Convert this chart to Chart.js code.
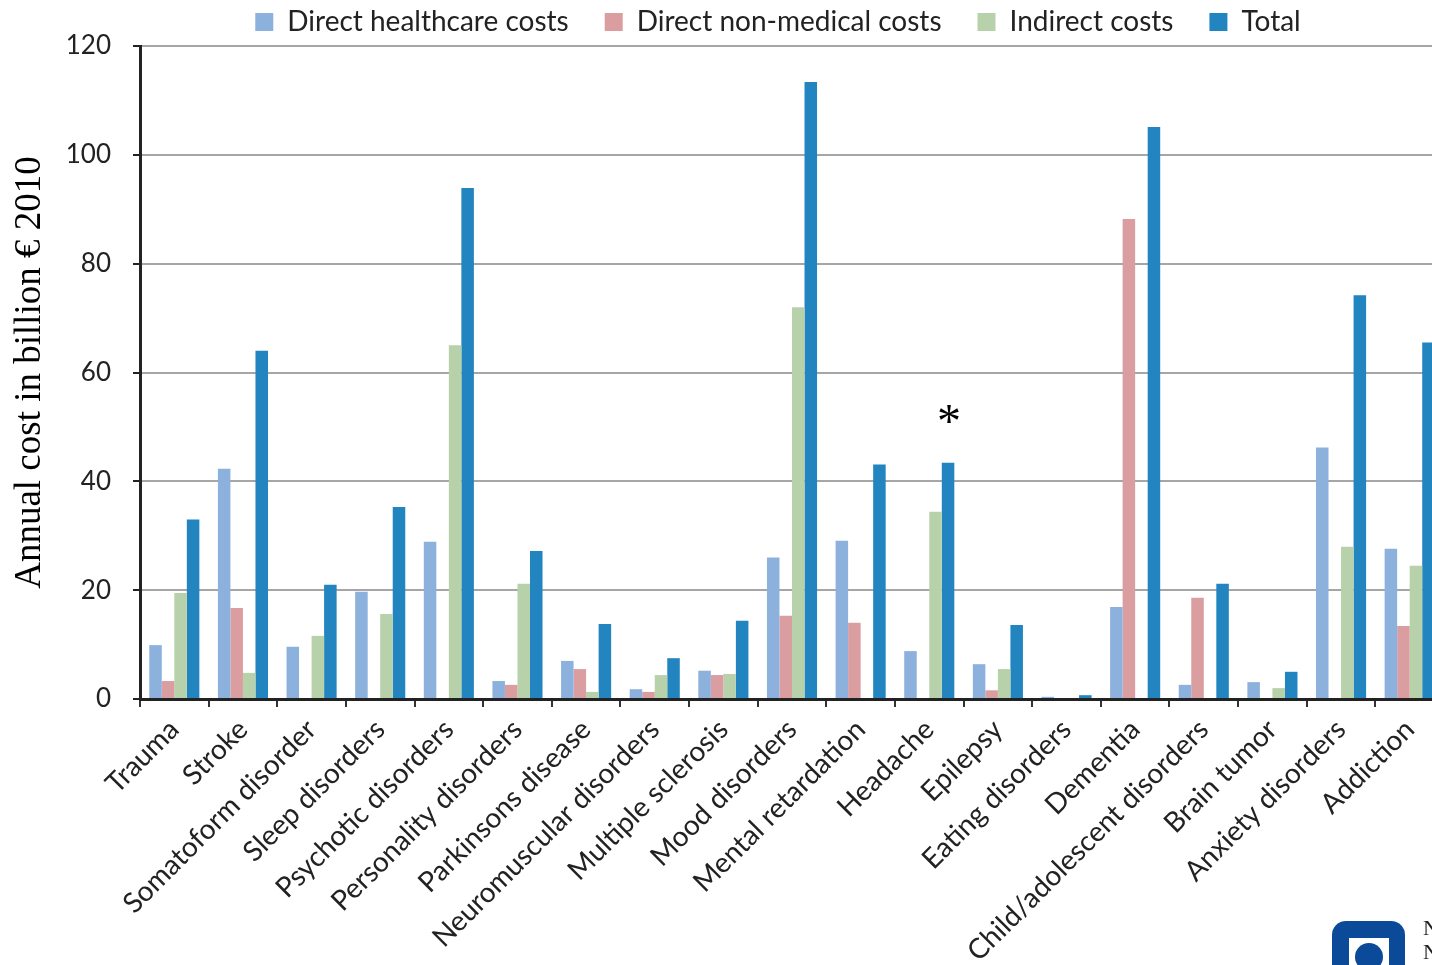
<!DOCTYPE html>
<html>
<head>
<meta charset="utf-8">
<script src="https://cdn.jsdelivr.net/npm/chart.js@4/dist/chart.umd.min.js"></script>
<style>
  html, body { margin: 0; padding: 0; background: #fff; overflow: hidden; }
  #wrap { position: relative; width: 1444px; height: 965px; }
  #logo { position: absolute; left: 1332px; top: 921px; width: 73px; height: 60px; background: #0b4a98; border-radius: 14px; }
  #logo .sq { position: absolute; left: 17px; top: 17px; width: 40px; height: 40px; background: #fff; }
  #logo .dot { position: absolute; left: 23px; top: 22px; width: 28px; height: 28px; border-radius: 50%; background: #0b4a98; }
  #logoText { position: absolute; left: 1423px; top: 916px; font: 22px "Liberation Serif", serif; line-height: 24px; color: #222; }
</style>
</head>
<body>
<div id="wrap">
  <canvas id="costChart" width="1444" height="965"></canvas>
  <div id="logo"><div class="sq"></div><div class="dot"></div></div>
  <div id="logoText">N<br>N</div>
</div>
<script>
// ---------- data ----------
const categories = [
  "Trauma", "Stroke", "Somatoform disorder", "Sleep disorders", "Psychotic disorders",
  "Personality disorders", "Parkinsons disease", "Neuromuscular disorders", "Multiple sclerosis",
  "Mood disorders", "Mental retardation", "Headache", "Epilepsy", "Eating disorders",
  "Dementia", "Child/adolescent disorders", "Brain tumor", "Anxiety disorders", "Addiction"
];
const directHealthcare = [9.9, 42.3, 9.6, 19.7, 28.9, 3.3, 7.0, 1.8, 5.2, 26.0, 29.1, 8.8, 6.4, 0.4, 16.9, 2.6, 3.1, 46.2, 27.6];
const directNonMedical = [3.3, 16.7, 0, 0, 0, 2.6, 5.5, 1.3, 4.4, 15.3, 14.0, 0, 1.6, 0, 88.2, 18.6, 0, 0, 13.4];
const indirectCosts    = [19.5, 4.8, 11.6, 15.6, 65.0, 21.2, 1.3, 4.4, 4.6, 72.0, 0, 34.4, 5.5, 0, 0, 0, 2.0, 28.0, 24.5];
const totalCosts       = [33.0, 64.0, 21.0, 35.3, 93.9, 27.2, 13.8, 7.5, 14.4, 113.4, 43.1, 43.4, 13.6, 0.7, 105.1, 21.2, 5.0, 74.2, 65.5];
const yTicks = [0, 20, 40, 60, 80, 100, 120];
const markedCategory = "Headache";

// ---------- asterisk above marked group ----------
const asteriskPlugin = {
  id: "asterisk",
  afterDatasetsDraw(chart) {
    const idx = categories.indexOf(markedCategory);
    const bar = chart.getDatasetMeta(3).data[idx];
    const y = chart.scales.y.getPixelForValue(52);
    const ctx = chart.ctx;
    ctx.save();
    ctx.font = "48px 'Liberation Serif', serif";
    ctx.fillStyle = "#000";
    ctx.textAlign = "center";
    ctx.textBaseline = "middle";
    ctx.fillText("*", bar.x + 1, y + 8);
    ctx.restore();
  }
};

const ctx = document.getElementById("costChart");

new Chart(ctx, {
  type: "bar",
  data: {
    labels: categories,
    datasets: [
      { label: "Direct healthcare costs", data: directHealthcare, backgroundColor: "#8db1dd" },
      { label: "Direct non-medical costs", data: directNonMedical, backgroundColor: "#da9da0" },
      { label: "Indirect costs", data: indirectCosts, backgroundColor: "#b7d1aa" },
      { label: "Total", data: totalCosts, backgroundColor: "#2285c0" }
    ]
  },
  options: {
    responsive: false,
    animation: false,
    devicePixelRatio: 1,
    categoryPercentage: 0.73,
    barPercentage: 1.0,
    layout: { padding: { top: 0, left: 0, right: 0, bottom: 0 } },
    plugins: {
      tooltip: { enabled: false },
      legend: {
        position: "top",
        fullSize: false,
        labels: {
          color: "#222",
          font: { family: "Lato", size: 28 },
          boxWidth: 18,
          boxHeight: 18,
          padding: 8,
          generateLabels(chart) {
            const items = Chart.defaults.plugins.legend.labels.generateLabels(chart);
            items.forEach((it) => { it.text = it.text + "\u2002\u2002"; it.lineWidth = 0; });
            return items;
          }
        }
      }
    },
    scales: {
      x: {
        afterFit: (scale) => { scale.height = 266; },
        border: { color: "#222", width: 3 },
        grid: {
          offset: true,
          drawOnChartArea: false,
          drawTicks: true,
          tickLength: 8,
          tickColor: "#333",
          lineWidth: 2
        },
        ticks: {
          autoSkip: false,
          maxRotation: 45,
          minRotation: 45,
          padding: 6,
          color: "#222",
          font: { family: "Lato", size: 28 }
        }
      },
      y: {
        min: 0,
        max: 120,
        afterFit: (scale) => { scale.width = 140; },
        afterBuildTicks: (scale) => { scale.ticks = yTicks.map((v) => ({ value: v })); },
        border: { color: "#222", width: 3 },
        grid: {
          color: "#a6a6a6",
          lineWidth: 2,
          tickLength: 7,
          tickColor: "#222"
        },
        ticks: {
          padding: 22,
          color: "#222",
          font: { family: "Lato", size: 26 }
        },
        title: {
          display: true,
          text: "Annual cost in billion € 2010",
          color: "#000",
          font: { family: "Liberation Serif", size: 37 },
          padding: { top: 8, bottom: 0 }
        }
      }
    }
  },
  plugins: [asteriskPlugin]
});
</script>
</body>
</html>
